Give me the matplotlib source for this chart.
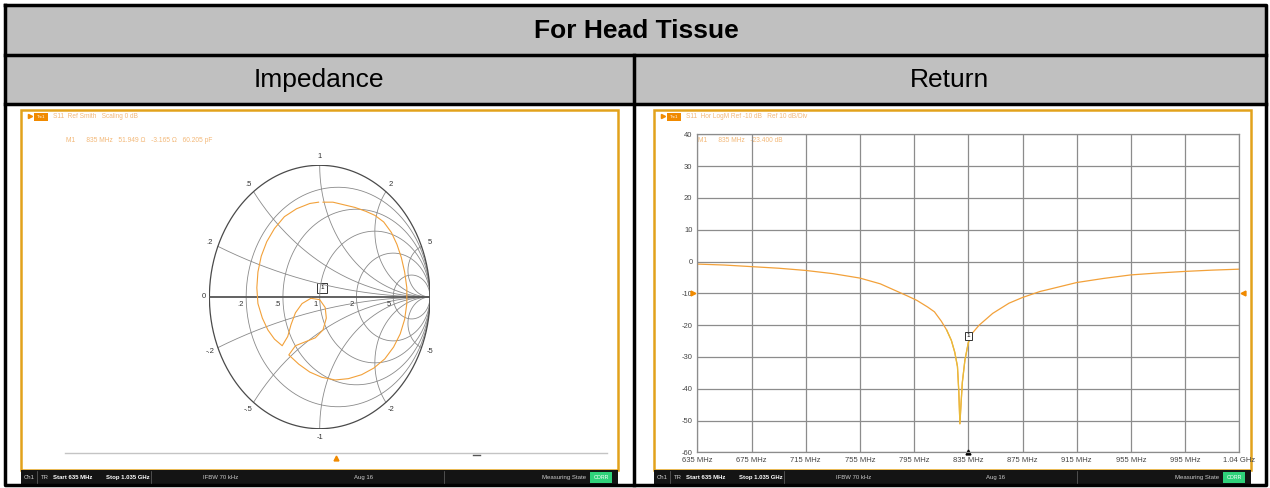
import numpy as np
import matplotlib
matplotlib.use('Agg')
import matplotlib.pyplot as plt
import matplotlib.patches as patches

plt.rcParams['font.family'] = ['Liberation Sans', 'DejaVu Sans']
plt.rcParams['axes.unicode_minus'] = False

W, H = 1270, 488

# Smith chart trace, reflection coefficient (re, im)
smith_re = [0.03, 0.12, 0.22, 0.32, 0.42, 0.50, 0.58, 0.65, 0.70, 0.74, 0.77, 0.79,
            0.79, 0.77, 0.73, 0.67, 0.59, 0.49, 0.38, 0.26, 0.14, 0.02, -0.09, -0.19,
            -0.28, -0.22, -0.13, -0.04, 0.03, 0.06, 0.05, 0.00, -0.08, -0.16, -0.22,
            -0.26, -0.29, -0.34, -0.41, -0.47, -0.52, -0.56, -0.57, -0.56, -0.53,
            -0.48, -0.41, -0.32, -0.21, -0.09, -0.01]
smith_im = [0.72, 0.72, 0.70, 0.68, 0.65, 0.62, 0.57, 0.49, 0.40, 0.30, 0.19, 0.07,
            -0.05, -0.17, -0.28, -0.38, -0.47, -0.54, -0.59, -0.62, -0.63, -0.61, -0.57,
            -0.51, -0.44, -0.37, -0.34, -0.31, -0.25, -0.16, -0.08, -0.02, -0.01, -0.05,
            -0.12, -0.21, -0.30, -0.37, -0.32, -0.25, -0.16, -0.05, 0.07, 0.19, 0.31,
            0.42, 0.52, 0.61, 0.67, 0.71, 0.72]
smith_marker = (0.02, 0.07)
smith_r = [0.2, 0.5, 1, 2, 5]
smith_x = [0.2, 0.5, 1, 2, 5]
smith_labels = ['.2', '.5', '1', '2', '5']

# Return loss trace (MHz, dB)
rl_freq = [635, 655, 675, 695, 715, 735, 755, 770, 780, 790, 797, 805, 810, 815, 819,
           822.5, 825, 827, 828, 828.8, 829.6, 830.6, 832.5, 835, 838, 843, 853, 865,
           875, 888, 893, 915, 935, 955, 975, 995, 1015, 1035]
rl_db = [-0.8, -1.1, -1.6, -2.1, -2.8, -3.8, -5.2, -7.0, -8.9, -10.8, -12.2, -14.3,
         -15.8, -18.7, -21.5, -24.8, -28.5, -33.0, -41.0, -51.0, -45.0, -38.0, -31.0,
         -25.5, -22.5, -20.0, -16.3, -13.1, -11.3, -9.4, -8.9, -6.6, -5.3, -4.2, -3.6,
         -3.1, -2.7, -2.4]
rl_marker = (835, -23.4)
rl_xticks = [635, 675, 715, 755, 795, 835, 875, 915, 955, 995, 1035]
rl_xlabels = ['635 MHz', '675 MHz', '715 MHz', '755 MHz', '795 MHz', '835 MHz',
              '875 MHz', '915 MHz', '955 MHz', '995 MHz', '1.04 GHz']
rl_yticks = [40, 30, 20, 10, 0, -10, -20, -30, -40, -50, -60]

ORANGE = '#f2a13a'
FRAME = '#e2a21c'
FAINT = '#f3b878'

fig = plt.figure(figsize=(W / 100, H / 100), dpi=100)


def px_axes(x0, y0, x1, y1):
    return fig.add_axes([x0 / W, 1 - y1 / H, (x1 - x0) / W, (y1 - y0) / H])


# background: table and the two instrument screens
bg = fig.add_axes([0, 0, 1, 1])
bg.set_xlim(0, W)
bg.set_ylim(H, 0)
bg.axis('off')

bg.add_patch(patches.Rectangle((5, 5), 1261, 99, facecolor='#c0c0c0', edgecolor='none'))
bg.plot([5, 1266, 1266, 5, 5], [5, 5, 485, 485, 5], color='black', lw=2.5)
bg.plot([5, 1266], [55, 55], color='black', lw=2.5)
bg.plot([5, 1266], [104, 104], color='black', lw=2.5)
bg.plot([634, 634], [55, 485], color='black', lw=2.5)
bg.text(636, 31, 'For Head Tissue', ha='center', va='center', fontsize=19, fontweight='bold')
bg.text(319, 80, 'Impedance', ha='center', va='center', fontsize=19)
bg.text(950, 80, 'Return', ha='center', va='center', fontsize=19)


def draw_screen(x0, title, readout, readout_x):
    # orange frame
    bg.add_patch(patches.Rectangle((x0, 110), 597, 360, facecolor='white',
                                   edgecolor=FRAME, lw=1.8))
    # status bar
    bg.add_patch(patches.Rectangle((x0, 470), 597, 14, facecolor='#141414', edgecolor='none'))
    ty = 477.5
    fs = 4.3
    bg.text(x0 + 3, ty, 'Ch1', color='#cccccc', fontsize=fs, va='center')
    bg.plot([x0 + 16, x0 + 16], [471, 483], color='#666666', lw=0.5)
    bg.text(x0 + 20, ty, 'TR', color='#cccccc', fontsize=fs, va='center')
    bg.text(x0 + 32, ty, 'Start 635 MHz', color='white', fontsize=fs, va='center', fontweight='bold')
    bg.text(x0 + 85, ty, 'Stop 1.035 GHz', color='white', fontsize=fs, va='center', fontweight='bold')
    bg.plot([x0 + 130, x0 + 130], [471, 483], color='#666666', lw=0.5)
    bg.text(x0 + 200, ty, 'IFBW 70 kHz', color='#cccccc', fontsize=fs, va='center', ha='center')
    bg.text(x0 + 342, ty, 'Aug 16', color='#cccccc', fontsize=fs, va='center', ha='center')
    bg.plot([x0 + 423, x0 + 423], [471, 483], color='#666666', lw=0.5)
    bg.text(x0 + 565, ty, 'Measuring State', color='#cccccc', fontsize=fs, va='center', ha='right')
    bg.add_patch(patches.Rectangle((x0 + 569, 471.5), 22, 11, facecolor='#2fd27a', edgecolor='none'))
    bg.text(x0 + 580, ty, 'CORR', color='white', fontsize=3.8, va='center', ha='center')
    # trace header
    bg.plot(x0 + 9, 116, marker='>', color='#f08a00', ms=3)
    bg.add_patch(patches.Rectangle((x0 + 13, 113), 14, 8, facecolor='#f08a00', edgecolor='none'))
    bg.text(x0 + 20, 117, 'Trc1', color='white', fontsize=3.2, ha='center', va='center')
    bg.text(x0 + 32, 117, title, color=FAINT, fontsize=4.7, va='center')
    bg.text(readout_x, 140, readout, color=FAINT, fontsize=4.8, va='center')


draw_screen(21, 'S11  Ref Smith   Scaling 0 dB',
            'M1      835 MHz   51.949 \u03a9   -3.165 \u03a9   60.205 pF', 66)
draw_screen(654, 'S11  Hor LogM Ref -10 dB   Ref 10 dB/Div',
            'M1      835 MHz   -23.400 dB', 698)

# sweep strip under the Smith chart
bg.plot([65, 607], [453, 453], color='#c4c4c4', lw=1)
bg.plot(336, 458, marker='^', color='#f08a00', ms=3.5)
bg.plot([473, 480], [455, 455], color='#555555', lw=1)

# ---------------- Smith chart ----------------
ax1 = px_axes(209.4, 165.3, 430.0, 428.7)
ax1.set_xlim(-1, 1)
ax1.set_ylim(-1, 1)
ax1.axis('off')
ax1.patch.set_alpha(0)

t = np.linspace(0, 2 * np.pi, 500)
grid_kw = dict(color='#8a8a8a', lw=0.6)
for r in smith_r:
    c, rad = r / (1 + r), 1 / (1 + r)
    ax1.plot(c + rad * np.cos(t), rad * np.sin(t), **grid_kw)
rr = np.concatenate([[0], np.logspace(-3, 3.5, 600)])
for x in smith_x:
    for s in (1, -1):
        g = (rr + 1j * s * x - 1) / (rr + 1j * s * x + 1)
        ax1.plot(g.real, g.imag, **grid_kw)
ax1.plot(np.cos(t), np.sin(t), color='#4a4a4a', lw=0.9)
ax1.plot([-1, 1], [0, 0], color='#555555', lw=1.3)

lab_kw = dict(fontsize=5.5, color='#333333', ha='center', va='center')
for x, lab in zip(smith_x, smith_labels):
    for s in (1, -1):
        g = (1j * s * x - 1) / (1j * s * x + 1)
        ax1.text(1.08 * g.real, 1.07 * g.imag, lab if s > 0 else '-' + lab, **lab_kw)
ax1.text(-1.03, 0.0, '0', fontsize=5.5, color='#333333', ha='right', va='center')
for r, lab in zip(smith_r, smith_labels):
    ax1.text((r - 1) / (r + 1) - 0.02, -0.03, lab, fontsize=5.5, color='#333333',
             ha='right', va='top')

ax1.plot(smith_re, smith_im, color=ORANGE, lw=0.8)
ax1.add_patch(patches.Rectangle((smith_marker[0] - 0.045, smith_marker[1] - 0.037), 0.09, 0.074,
                                facecolor='white', edgecolor='#333333', lw=0.7))
ax1.text(smith_marker[0], smith_marker[1], '1', fontsize=4.5, ha='center', va='center')

# ---------------- Return loss ----------------
ax2 = px_axes(697.3, 134.3, 1239.3, 452.4)
ax2.set_xlim(635, 1035)
ax2.set_ylim(-60, 40)
ax2.patch.set_alpha(0)
ax2.set_xticks(rl_xticks)
ax2.set_xticklabels(rl_xlabels)
ax2.set_yticks(rl_yticks)
ax2.tick_params(length=0, labelsize=5.5, labelcolor='#444444', pad=3.5)
ax2.grid(True, color='#8c8c8c', lw=0.9)
for sp in ax2.spines.values():
    sp.set_color('#8c8c8c')
    sp.set_linewidth(0.9)

ax2.plot(rl_freq, rl_db, color=ORANGE, lw=0.9)
dip = [i for i, f in enumerate(rl_freq) if 819 <= f <= 838]
ax2.plot([rl_freq[i] for i in dip], [rl_db[i] for i in dip], color='#e9bb3a', lw=0.9)

ax2.plot(-0.008, -10, marker='>', color='#f08a00', ms=3.5, clip_on=False,
         transform=ax2.get_yaxis_transform())
ax2.plot(1.007, -10, marker='<', color='#f08a00', ms=3.5, clip_on=False,
         transform=ax2.get_yaxis_transform())
ax2.plot(rl_marker[0], -60, marker='^', color='black', ms=3.5, clip_on=False)
ax2.text(rl_marker[0], rl_marker[1], '1', fontsize=4.5, ha='center', va='center',
         bbox=dict(boxstyle='square,pad=0.25', facecolor='white', edgecolor='#333333', lw=0.7))

fig.savefig('out.png', dpi=100)
